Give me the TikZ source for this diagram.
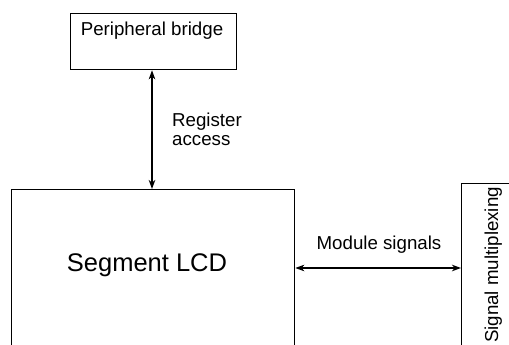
\documentclass[tikz,border=0pt]{standalone}
\usepackage{fontspec}
\setmainfont{Liberation Sans}
\usetikzlibrary{arrows.meta}
\tikzset{
  blk/.style={draw, line width=1.3pt, rectangle, inner sep=0pt},
  lbl/.style={inner sep=0pt, font=\fontsize{18.7}{19.4}\selectfont},
  conn/.style={line width=1.3pt, {Stealth[length=9pt,width=6.5pt,inset=2.5pt]}-{Stealth[length=9pt,width=6.5pt,inset=2.5pt]}}
}
\begin{document}
\begin{tikzpicture}[x=1pt,y=1pt]
\useasboundingbox (0,0) rectangle (509,345);
\clip (0,0) rectangle (509,345);
% boxes
\node[blk, anchor=north west, minimum width=166pt, minimum height=56pt] (pb) at (70,332) {};
\node[blk, anchor=north west, minimum width=283pt, minimum height=200pt] (lcd) at (11,156) {};
\node[blk, anchor=north west, minimum width=100pt, minimum height=200pt] (mux) at (461,162) {};
% texts
\node[lbl, anchor=base] (pbt) at (152,309) {Peripheral bridge};
\node[inner sep=0pt, anchor=base, font=\fontsize{25.5}{28}\selectfont] (lcdt) at (147,73) {Segment LCD};
\node[lbl, anchor=base, rotate=90] (muxt) at (498,80) {Signal multiplexing};
\node[lbl, anchor=base west, align=left] (rat) at (172,199) {Register\\access};
\node[lbl, anchor=base] (mst) at (379,95) {Module signals};
% connectors
\coordinate (ra) at (152,0);
\coordinate (my) at (0,77);
\draw[conn] (pb.south -| ra) -- (lcd.north -| ra);
\draw[conn] (lcd.east |- my) -- (mux.west |- my);
\end{tikzpicture}
\end{document}
